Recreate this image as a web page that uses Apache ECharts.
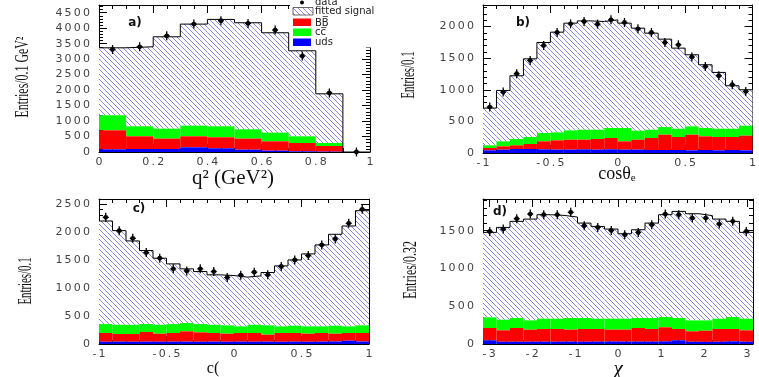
<!DOCTYPE html>
<html>
<head>
<meta charset="utf-8">
<script src="https://cdn.jsdelivr.net/npm/echarts@6/dist/echarts.min.js"></script>
<style>
  html, body { margin: 0; padding: 0; background: #fff; }
  #chart { width: 759px; height: 377px; }
</style>
</head>
<body>
<div id="chart"></div>
<script>
// ---- a) q^2 distribution, bins of 0.1 GeV^2 ----
const q2Edges   = [0, 0.1, 0.2, 0.3, 0.4, 0.5, 0.6, 0.7, 0.8, 0.9, 1.0];
const q2Uds     = [86, 97, 97, 151, 119, 75, 43, 22, 11, 0];
const q2BB      = [615, 410, 335, 356, 356, 357, 302, 269, 183, 0];
const q2CC      = [486, 324, 323, 345, 356, 302, 281, 216, 97, 0];
const q2Signal  = [2180, 2569, 2968, 3281, 3453, 3442, 3227, 2763, 1589, 0];
const q2Data    = [3313, 3400, 3755, 4133, 4241, 4155, 3939, 3100, 1910, 0];

// ---- b) cos(theta_e), bins of 0.1 ----
const cosEEdges  = [-1, -0.9, -0.8, -0.7, -0.6, -0.5, -0.4, -0.3, -0.2, -0.1, 0, 0.1, 0.2, 0.3, 0.4, 0.5, 0.6, 0.7, 0.8, 0.9, 1];
const cosEUds    = [42, 53, 63, 63, 58, 53, 53, 58, 53, 58, 53, 53, 47, 47, 47, 42, 47, 42, 47, 42];
const cosEBB     = [37, 52, 58, 79, 126, 147, 157, 152, 168, 179, 131, 157, 190, 242, 206, 247, 216, 211, 206, 232];
const cosECC     = [42, 79, 100, 111, 132, 126, 148, 158, 147, 158, 211, 143, 131, 121, 131, 132, 132, 131, 131, 158];
const cosESignal = [589, 805, 1000, 1236, 1431, 1585, 1695, 1721, 1711, 1710, 1658, 1621, 1527, 1390, 1274, 1132, 1000, 890, 679, 568];
const cosEData   = [726, 963, 1253, 1463, 1700, 1905, 2042, 2079, 2037, 2105, 2063, 1963, 1905, 1747, 1711, 1516, 1368, 1221, 1079, 974];

// ---- c) second helicity angle, bins of 0.1 ----
const cosVEdges  = [-1, -0.9, -0.8, -0.7, -0.6, -0.5, -0.4, -0.3, -0.2, -0.1, 0, 0.1, 0.2, 0.3, 0.4, 0.5, 0.6, 0.7, 0.8, 0.9, 1];
const cosVUds    = [40, 42, 40, 42, 40, 42, 42, 40, 42, 40, 42, 40, 42, 40, 42, 40, 42, 45, 59, 45];
const cosVBB     = [156, 136, 138, 172, 144, 154, 184, 168, 154, 144, 154, 156, 124, 156, 154, 144, 154, 139, 137, 151];
const cosVCC     = [160, 166, 166, 142, 160, 160, 148, 148, 148, 149, 119, 148, 167, 119, 131, 131, 119, 143, 119, 137];
const cosVSignal = [1841, 1681, 1497, 1313, 1188, 1075, 968, 938, 891, 890, 879, 873, 944, 1080, 1175, 1294, 1455, 1633, 1793, 2048];
const cosVData   = [2262, 2025, 1888, 1633, 1532, 1342, 1306, 1342, 1294, 1188, 1229, 1283, 1235, 1384, 1502, 1580, 1770, 1876, 2156, 2405];

// ---- d) chi, 20 bins over [-pi, pi] ----
const chiEdges  = [-3.1416, -2.8274, -2.5133, -2.1991, -1.8850, -1.5708, -1.2566, -0.9425, -0.6283, -0.3142, 0,
                   0.3142, 0.6283, 0.9425, 1.2566, 1.5708, 1.8850, 2.1991, 2.5133, 2.8274, 3.1416];
const chiUds    = [49, 30, 30, 30, 31, 30, 32, 30, 31, 33, 31, 32, 31, 35, 49, 30, 28, 30, 35, 30];
const chiBB     = [163, 151, 182, 160, 168, 169, 158, 169, 168, 157, 159, 180, 168, 186, 150, 138, 148, 169, 164, 151];
const chiCC     = [141, 141, 132, 123, 136, 136, 154, 145, 136, 145, 145, 132, 145, 136, 145, 145, 137, 136, 158, 154];
const chiSignal = [1125, 1222, 1280, 1341, 1377, 1368, 1337, 1257, 1222, 1187, 1125, 1169, 1257, 1355, 1412, 1412, 1386, 1319, 1267, 1143];
const chiData   = [1491, 1522, 1659, 1721, 1712, 1712, 1743, 1566, 1544, 1504, 1447, 1478, 1579, 1721, 1712, 1668, 1668, 1588, 1624, 1491];

// diagonal hatch tile for the fitted signal
function makeHatch() {
  const s = 5;
  const c = document.createElement('canvas');
  c.width = s; c.height = s;
  const g = c.getContext('2d');
  g.fillStyle = '#fff';
  g.fillRect(0, 0, s, s);
  g.strokeStyle = '#7c7ce0';
  g.lineWidth = 0.9;
  for (let k = -1; k <= 1; k++) {
    g.beginPath();
    g.moveTo(0, k * s);
    g.lineTo(s, s + k * s);
    g.stroke();
  }
  return c;
}
const hatch = { image: makeHatch(), repeat: 'repeat' };

const RED = '#ff0000', GREEN = '#00ff00', BLUE = '#0000ff';
const LABEL_FONT = 'DejaVu Sans';
const spaced = s => String(s).split('').join('\u2009');

// one panel: stacked backgrounds (uds, BB, cc), hatched signal, outline, data points
function panel(g, edges, uds, bb, cc, sig, data) {
  const n = uds.length;
  const t0 = uds.slice();
  const t1 = t0.map((v, i) => v + bb[i]);
  const t2 = t1.map((v, i) => v + cc[i]);
  const t3 = t2.map((v, i) => v + sig[i]);
  const zeros = new Array(n).fill(0);

  function band(lower, upper, fill, z) {
    return {
      type: 'custom', xAxisIndex: 2 * g, yAxisIndex: 2 * g, z: z, silent: true,
      clip: true,
      data: lower.map((lo, i) => [edges[i], edges[i + 1], lo, upper[i]]),
      encode: { x: [0, 1], y: [2, 3] },
      renderItem: function (params, api) {
        const p0 = api.coord([api.value(0), api.value(2)]);
        const p1 = api.coord([api.value(1), api.value(3)]);
        return {
          type: 'rect',
          shape: { x: p0[0], y: p1[1], width: p1[0] - p0[0], height: p0[1] - p1[1] },
          style: { fill: fill }
        };
      }
    };
  }

  const outline = [];
  for (let i = 0; i < n; i++) outline.push([edges[i], t3[i]]);
  outline.push([edges[n], t3[n - 1]]);

  return [
    band(t2, t3, hatch, 2),
    band(t1, t2, GREEN, 3),
    band(t0, t1, RED, 3),
    band(zeros, t0, BLUE, 3),
    {
      type: 'line', xAxisIndex: 2 * g, yAxisIndex: 2 * g, z: 5, silent: true,
      step: 'end', showSymbol: false, data: outline,
      lineStyle: { color: '#000', width: 1 }
    },
    {
      type: 'custom', xAxisIndex: 2 * g, yAxisIndex: 2 * g, z: 6, silent: true, clip: false,
      data: data.map((v, i) => [(edges[i] + edges[i + 1]) / 2, v]),
      encode: { x: 0, y: 1 },
      renderItem: function (params, api) {
        const c = api.coord([api.value(0), api.value(1)]);
        return {
          type: 'group',
          children: [
            { type: 'line', shape: { x1: c[0], y1: c[1] - 4.5, x2: c[0], y2: c[1] + 4.5 }, style: { stroke: '#000', lineWidth: 1.3 } },
            { type: 'line', shape: { x1: c[0] - 3, y1: c[1], x2: c[0] + 3, y2: c[1] }, style: { stroke: '#000', lineWidth: 1.3 } },
            { type: 'circle', shape: { cx: c[0], cy: c[1], r: 2.4 }, style: { fill: '#000' } }
          ]
        };
      }
    }
  ];
}

const grids = [
  { left: 99, top: 5, width: 271, height: 147 },
  { left: 483, top: 5, width: 270, height: 148 },
  { left: 99, top: 199, width: 270, height: 145 },
  { left: 483, top: 199, width: 270, height: 145 }
];

const xRanges = [
  { min: 0, max: 1, interval: 0.2, minor: 4 },
  { min: -1, max: 1, interval: 0.5, minor: 5 },
  { min: -1, max: 1, interval: 0.5, minor: 5 },
  { min: -Math.PI, max: Math.PI, splitNumber: 6, minor: 5, integerOnly: true }
];
const yRanges = [
  { max: 4750, interval: 500 },
  { max: 2340, interval: 500 },
  { max: 2590, interval: 500 },
  { max: 1920, interval: 500 }
];

const tick = { inside: true, length: 8, lineStyle: { color: '#000', width: 1 } };
const minor = n => ({ show: true, splitNumber: n, length: 4, lineStyle: { color: '#000', width: 1 } });
const line = { show: true, onZero: false, lineStyle: { color: '#000', width: 1 } };

const xAxes = [], yAxes = [];
xRanges.forEach((r, g) => {
  const base = {
    gridIndex: g, type: 'value', min: r.min, max: r.max,
    axisLine: line, axisTick: tick, minorTick: minor(r.minor),
    splitLine: { show: false }, minorSplitLine: { show: false }
  };
  if (r.interval !== undefined) base.interval = r.interval;
  if (r.splitNumber !== undefined) base.splitNumber = r.splitNumber;
  xAxes.push(Object.assign({}, base, {
    position: 'bottom',
    axisLabel: {
      margin: 5, color: '#444', fontFamily: LABEL_FONT, fontSize: 11,
      showMinLabel: true, showMaxLabel: true,
      formatter: function (v) {
        if (r.integerOnly) {
          if (Math.abs(v - Math.round(v)) > 1e-6) return '';
          return spaced(Math.round(v));
        }
        return spaced(Math.round(v * 100) / 100);
      }
    }
  }));
  xAxes.push(Object.assign({}, base, { position: 'top', axisLabel: { show: false } }));
});
yRanges.forEach((r, g) => {
  const base = {
    gridIndex: g, type: 'value', min: 0, max: r.max, interval: r.interval,
    axisLine: line, axisTick: tick, minorTick: minor(5),
    splitLine: { show: false }, minorSplitLine: { show: false }
  };
  yAxes.push(Object.assign({}, base, {
    position: 'left',
    axisLabel: {
      margin: 9, color: '#444', fontFamily: LABEL_FONT, fontSize: 11,
      formatter: function (v) {
        if (Math.abs(v / r.interval - Math.round(v / r.interval)) > 1e-6) return '';
        return spaced(v);
      }
    }
  }));
  yAxes.push(Object.assign({}, base, { position: 'right', axisLabel: { show: false } }));
});

const series = [].concat(
  panel(0, q2Edges, q2Uds, q2BB, q2CC, q2Signal, q2Data),
  panel(1, cosEEdges, cosEUds, cosEBB, cosECC, cosESignal, cosEData),
  panel(2, cosVEdges, cosVUds, cosVBB, cosVCC, cosVSignal, cosVData),
  panel(3, chiEdges, chiUds, chiBB, chiCC, chiSignal, chiData)
);

// axis titles, panel tags and the legend box
const serif = 'Liberation Serif';
function yTitle(text, x, y, sx, size) {
  return {
    type: 'text', x: x, y: y, rotation: Math.PI / 2, scaleX: sx, z: 60,
    style: { text: text, x: 0, y: 0, align: 'center', verticalAlign: 'middle', font: size + 'px "' + serif + '"', fill: '#111' }
  };
}
function tag(text, x, y) {
  return {
    type: 'text', x: x, y: y, z: 60,
    style: { text: text, align: 'center', verticalAlign: 'middle', font: 'bold 12px "' + LABEL_FONT + '"', fill: '#111' }
  };
}
function legendText(text, y) {
  return {
    type: 'text', x: 315, y: y, z: 101,
    style: { text: text, align: 'left', verticalAlign: 'middle', font: '10px "' + LABEL_FONT + '"', fill: '#222' }
  };
}
function legendBox(y, w, fill) {
  return { type: 'rect', z: 101, shape: { x: 293, y: y, width: w, height: 7.5 }, style: { fill: fill, stroke: fill === hatch ? '#444' : null, lineWidth: 0.8 } };
}

const graphics = [
  yTitle('Entries/0.1 GeV\u00b2', 23, 77, 0.66, 18),
  yTitle('Entries/0.1', 409, 75, 0.6, 18),
  yTitle('Entries/0.1', 26, 281, 0.6, 18),
  yTitle('Entries/0.32', 411, 270, 0.66, 18),
  {
    type: 'text', x: 233, y: 178, z: 60,
    style: { text: 'q\u00b2 (GeV\u00b2)', align: 'center', verticalAlign: 'middle', font: '21px "' + serif + '"', fill: '#111' }
  },
  {
    type: 'text', x: 617, y: 174, z: 60,
    style: {
      text: '{m|cos\u03b8}{s|e}', align: 'center', verticalAlign: 'middle',
      rich: {
        m: { font: '18px "' + serif + '"', fill: '#111' },
        s: { font: '11px "' + serif + '"', fill: '#111', padding: [9, 0, 0, 0] }
      }
    }
  },
  {
    type: 'text', x: 213, y: 369, z: 60,
    style: { text: 'c(', align: 'center', verticalAlign: 'middle', font: '16px "' + serif + '"', fill: '#111' }
  },
  {
    type: 'text', x: 618, y: 369, z: 60,
    style: { text: '\u03c7', align: 'center', verticalAlign: 'middle', font: 'italic 21px "' + serif + '"', fill: '#111' }
  },
  tag('a)', 135, 23),
  tag('b)', 523, 23),
  tag('c)', 139, 209),
  tag('d)', 500, 212),
  { type: 'rect', z: 100, shape: { x: 290, y: 0, width: 92, height: 47.5 }, style: { fill: '#fff' } },
  { type: 'circle', z: 101, shape: { cx: 302, cy: 2.5, r: 2 }, style: { fill: '#000' } },
  legendText('data', 2.5),
  legendBox(7.5, 20, hatch),
  legendText('fitted signal', 11.5),
  legendBox(18.5, 18, RED),
  legendText('BB\u0305', 23),
  legendBox(28.5, 18, GREEN),
  legendText('cc\u0305', 32.5),
  legendBox(38.5, 18, BLUE),
  legendText('uds', 42.5)
];

const chart = echarts.init(document.getElementById('chart'), null, { renderer: 'canvas' });
chart.setOption({
  animation: false,
  backgroundColor: '#fff',
  grid: grids,
  xAxis: xAxes,
  yAxis: yAxes,
  series: series,
  graphic: { elements: graphics }
});
</script>
</body>
</html>
